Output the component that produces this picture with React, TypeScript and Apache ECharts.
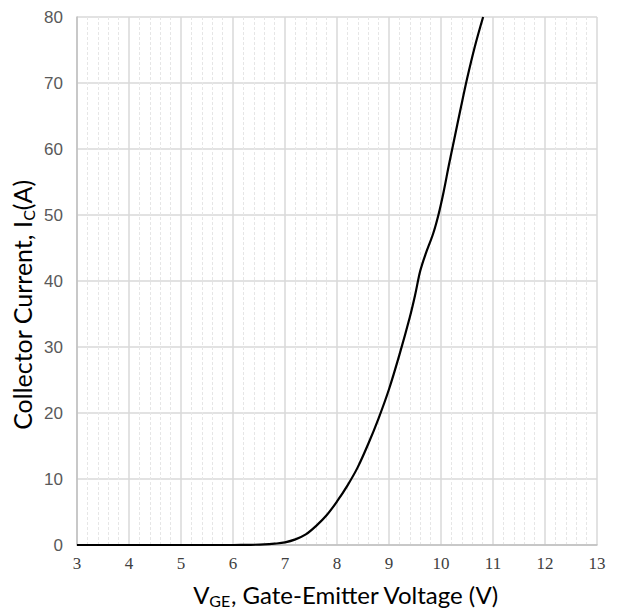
import React, { useEffect, useRef } from "react";
import * as echarts from "echarts";

const vge: number[] = [3, 4, 5, 6, 6.3, 6.6, 6.8, 7.0, 7.2, 7.4, 7.6, 7.8, 8.0, 8.2, 8.4, 8.6, 8.8, 9.0, 9.2, 9.4, 9.5, 9.6, 9.7, 9.85, 9.95, 10.05, 10.15, 10.25, 10.38, 10.5, 10.65, 10.81];
const ic: number[] = [0, 0, 0, 0, 0.02, 0.08, 0.2, 0.4, 0.85, 1.6, 2.9, 4.5, 6.6, 9.0, 11.8, 15.3, 19.2, 23.6, 28.8, 34.5, 37.8, 41.5, 44, 47.2, 50, 53.5, 57.5, 61.3, 66.2, 70.6, 75.5, 80];
const xTicks: number[] = [3, 4, 5, 6, 7, 8, 9, 10, 11, 12, 13];
const yTicks: number[] = [0, 10, 20, 30, 40, 50, 60, 70, 80];

export default function App() {
  const ref = useRef<HTMLDivElement>(null);
  useEffect(() => {
    if (!ref.current) return;
    const chart = echarts.init(ref.current, null, { renderer: "svg" });
    const data = vge.map((v, i) => [v, ic[i]]);
    chart.setOption({
      animation: false,
      backgroundColor: "#ffffff",
      grid: { left: 77, right: 20, top: 17, bottom: 67, containLabel: false },
      xAxis: {
        type: "value",
        min: xTicks[0],
        max: xTicks[xTicks.length - 1],
        interval: 1,
        axisLine: { show: true, lineStyle: { color: "#bfbfbf", width: 1.5 } },
        axisTick: { show: false },
        axisLabel: { color: "#404040", fontSize: 17, fontFamily: "Liberation Serif", margin: 10 },
        splitLine: { show: true, lineStyle: { color: "#d9d9d9", width: 1.5 } },
        minorTick: { show: false, splitNumber: 5 },
        minorSplitLine: { show: true, lineStyle: { color: "#e6e6e6", width: 1, type: [3, 2] } },
      },
      yAxis: {
        type: "value",
        min: yTicks[0],
        max: yTicks[yTicks.length - 1],
        interval: 10,
        axisLine: { show: true, lineStyle: { color: "#bfbfbf", width: 1.5 } },
        axisTick: { show: false },
        axisLabel: { color: "#595959", fontSize: 17, fontFamily: "Liberation Sans", margin: 14 },
        splitLine: { show: true, lineStyle: { color: "#d9d9d9", width: 1.5 } },
      },
      series: [
        {
          type: "line",
          data,
          smooth: 0.35,
          showSymbol: false,
          lineStyle: { color: "#000000", width: 2.2 },
        },
      ],
      graphic: [
        {
          type: "text",
          x: 346,
          y: 594,
          style: {
            text: "{a|V}{s|GE}{a|, Gate-Emitter Voltage (V)}",
            align: "center",
            verticalAlign: "middle",
            rich: {
              a: { fontSize: 24, fontFamily: "Lato", fill: "#000" },
              s: { fontSize: 16, fontFamily: "Lato", fill: "#000", padding: [12, 0, 0, 0] },
            },
          },
        },
        {
          type: "text",
          x: 22,
          y: 305,
          rotation: Math.PI / 2,
          style: {
            text: "{a|Collector Current, I}{s|C}{a|(A)}",
            align: "center",
            verticalAlign: "middle",
            rich: {
              a: { fontSize: 25, fontFamily: "Lato", fill: "#000" },
              s: { fontSize: 16, fontFamily: "Lato", fill: "#000", padding: [12, 0, 0, 0] },
            },
          },
        },
      ],
    });
    return () => chart.dispose();
  }, []);
  return (
    <div
      ref={ref}
      style={{ position: "absolute", left: 0, top: 0, width: 617, height: 612 }}
    />
  );
}
